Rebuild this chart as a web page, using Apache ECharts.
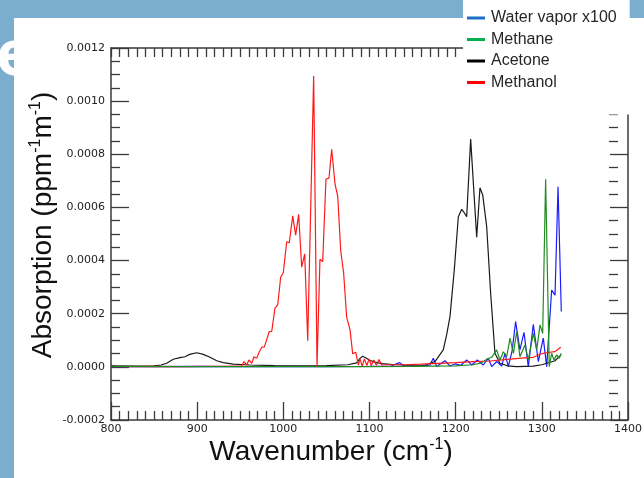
<!DOCTYPE html>
<html>
<head>
<meta charset="utf-8">
<script src="https://cdn.jsdelivr.net/npm/echarts@6/dist/echarts.min.js"></script>
<style>
  html, body { margin: 0; padding: 0; }
  #chart { width: 644px; height: 478px; }
</style>
</head>
<body>
<div id="chart"></div>
<script>
// Series names (legend order)
const seriesNames = ['Water vapor x100', 'Methane', 'Acetone', 'Methanol'];

// Y-axis tick values
const yTicks = [-0.0002, 0, 0.0002, 0.0004, 0.0006, 0.0008, 0.0010, 0.0012];
// X-axis tick values
const xTicks = [800, 900, 1000, 1100, 1200, 1300, 1400];

// Water vapor x100: wavenumber (cm-1) and absorption (ppm-1 m-1)
const waterX = [800, 805, 850, 900, 950, 1000, 1050, 1100, 1125, 1135, 1140, 1160, 1170, 1174, 1178,
  1187.6, 1193.4, 1199.2, 1206, 1212.8, 1218.6, 1225.1, 1232, 1237.9, 1241.8, 1247.6, 1253.4, 1257.2,
  1261.1, 1265.5, 1269.6, 1274.6, 1279.3, 1284.3, 1290.1, 1295.9, 1301.7, 1305.6, 1311.4, 1315.3,
  1318.8, 1322.6];
const waterY = [0.000006, 0.000001, 0.000001, 0.000002, 0.000001, 0.000002, 0.000001, 0.000002, 0.000003,
  0.000016, 0.000003, 0.000004, 0.000006, 0.000032, 0.000001, 0.000023, 0.000003, 0.000011, 0.000006,
  0.000026, 0.000007, 0.000026, 0.000007, 0.000032, 0.000001, 0.00002, 0.000003, 0.000051, 0.000001,
  0.00006, 0.00017, 0.000064, 0.00013, 0.000001, 0.00016, 0.00002, 0.000108, 0.000001, 0.000289,
  0.00027, 0.000678, 0.000208];

// Methane
const methaneX = [800, 900, 1000, 1100, 1150, 1200, 1220, 1230, 1236, 1241.8, 1247.6, 1251.4, 1255.3,
  1259.2, 1263.1, 1267, 1270.8, 1274.6, 1280.4, 1284.3, 1290.1, 1294, 1297.9, 1301, 1304.4, 1308.6,
  1311.4, 1314, 1317.2, 1320.2, 1322.6];
const methaneY = [0.000002, 0.000001, 0.000001, 0.000001, 0.000002, 0.000004, 0.000008, 0.000015,
  0.000029, 0.000036, 0.000064, 0.000026, 0.000057, 0.000038, 0.000108, 0.000051, 0.000132, 0.000038,
  0.000082, 0.000026, 0.000126, 0.000064, 0.000158, 0.000126, 0.000706, 0.000001, 0.000051, 0.000026,
  0.000045, 0.000032, 0.000051];

// Acetone
const acetoneX = [800, 830, 850, 858, 864.6, 872.3, 880, 885.9, 889.7, 893.6, 899.5, 907.1, 914.9, 922.7,
  930.3, 941.9, 961.3, 990, 1020, 1050, 1075, 1085, 1089, 1092, 1096, 1100, 1106, 1115, 1130, 1150,
  1165, 1176, 1185.6, 1189.5, 1193.4, 1198.4, 1203.1, 1207, 1210, 1212.8, 1217.4, 1224.4, 1228.2,
  1231.4, 1236, 1240.6, 1245.6, 1251.4, 1260, 1270.8, 1290, 1300, 1305.6, 1315.3, 1322.2];
const acetoneY = [0.000004, 0.000003, 0.000004, 0.000007, 0.0000135, 0.0000286, 0.0000346, 0.000038,
  0.000045, 0.000049, 0.000053, 0.000047, 0.000036, 0.000023, 0.000016, 0.00001, 0.000007, 0.000005,
  0.000004, 0.000005, 0.000008, 0.000015, 0.000032, 0.00004, 0.000033, 0.000025, 0.000018, 0.000012,
  0.000008, 0.000006, 0.000007, 0.00002, 0.000064, 0.00012, 0.000189, 0.000365, 0.000565, 0.000593,
  0.00058, 0.000565, 0.000857, 0.000488, 0.000674, 0.000647, 0.000528, 0.000277, 0.000051, 0.0000135,
  0.000004, 0.000001, 0.000003, 0.000008, 0.0000135, 0.000023, 0.000045];

// Methanol
const methanolX = [800, 820, 850, 880, 910, 930, 945, 951.7, 954.3, 957.5, 960.1, 963.3, 965.9, 969,
  972.1, 975, 978, 983.7, 986.5, 990.3, 993.5, 996.9, 1000, 1003.9, 1006.9, 1010.9, 1014.3, 1017.8,
  1021.3, 1024.8, 1028.3, 1035.2, 1039.1, 1042.5, 1045.7, 1049.5, 1053, 1056.1, 1060, 1063.1, 1066.6,
  1070, 1073.5, 1077.4, 1080.5, 1084, 1087, 1089, 1091.5, 1094, 1097, 1099.5, 1102, 1105, 1108, 1111,
  1114, 1120, 1140, 1160, 1180, 1200, 1220, 1240, 1260, 1280, 1290, 1300, 1305, 1315, 1322];
const methanolY = [0.000002, 0.000001, 0.000002, 0.000001, 0.000002, 0.000002, 0.000003, 0.0000034,
  0.00002, 0.000007, 0.000026, 0.0000135, 0.000038, 0.000032, 0.000057, 0.000074, 0.000075, 0.000133,
  0.000133, 0.000221, 0.000233, 0.000337, 0.000355, 0.000471, 0.000467, 0.000568, 0.000496, 0.000574,
  0.000375, 0.000425, 0.000098, 0.001095, 0.000003, 0.000405, 0.000396, 0.000707, 0.00071, 0.000819,
  0.000688, 0.000643, 0.000437, 0.000352, 0.000187, 0.000139, 0.000049, 0.000055, 0.000007, 0.00003,
  0.000002, 0.00003, 0.000005, 0.00003, 0.000005, 0.000026, 0.000006, 0.000028, 0.000007, 0.000008,
  0.000008, 0.00001, 0.000013, 0.000016, 0.00002, 0.000022, 0.000028, 0.000034, 0.000036, 0.00005,
  0.000053, 0.000057, 0.000074];

const pairs = (xs, ys) => xs.map((x, i) => [x, ys[i]]);

const lineColors = {
  'Water vapor x100': '#1c1cff',
  'Methane': '#228b22',
  'Acetone': '#1a1a1a',
  'Methanol': '#ff1a1a'
};
const legendColors = {
  'Water vapor x100': '#1f6fc6',
  'Methane': '#00b04f',
  'Acetone': '#000000',
  'Methanol': '#ff0000'
};

const axisColor = '#3a3a3a';
const labelFont = 'DejaVu Sans';
const titleFont = 'Liberation Sans';

// Plot frame geometry (pixels)
const plot = { left: 111, right: 628, top: 48, bottom: 420 };
// The legend box hides the frame's top-right corner down to this y / from this x
const legendBox = { left: 463, right: 630, bottom: 111 };

const xMin = xTicks[0], xMax = xTicks[xTicks.length - 1];
const yMin = yTicks[0], yMax = yTicks[yTicks.length - 1];
const xPerPx = (xMax - xMin) / (plot.right - plot.left);
const yPerPx = (yMax - yMin) / (plot.bottom - plot.top);

// Extents of the visible parts of the top and right frame edges
const topEdgeMax = xMin + (legendBox.left - plot.left) * xPerPx;
const rightEdgeMax = yMin + (plot.bottom - legendBox.bottom) * yPerPx;

function stepValues(from, to, step, skipEvery) {
  const out = [];
  const n = Math.floor((to - from) / step + 1e-9);
  for (let k = 0; k <= n; k++) {
    if (skipEvery && k % skipEvery === 0) continue;
    out.push(Math.round((from + k * step) * 1e7) / 1e7);
  }
  return out;
}

const lineStyle = { color: axisColor, width: 1.5 };
const tickStyle = { color: axisColor, width: 1.3 };

const chart = echarts.init(document.getElementById('chart'), null, { renderer: 'canvas' });

const series = [
  { name: 'Water vapor x100', data: pairs(waterX, waterY) },
  { name: 'Acetone', data: pairs(acetoneX, acetoneY) },
  { name: 'Methanol', data: pairs(methanolX, methanolY) },
  { name: 'Methane', data: pairs(methaneX, methaneY) }
].map(s => ({
  type: 'line',
  name: s.name,
  data: s.data,
  showSymbol: false,
  symbol: 'none',
  xAxisIndex: 0,
  yAxisIndex: 0,
  lineStyle: { width: 1.2, color: lineColors[s.name] },
  itemStyle: { color: lineColors[s.name] },
  z: 2
}));

const titleRich = {
  m: { fontSize: 28, fontFamily: titleFont, fill: '#111', lineHeight: 31, verticalAlign: 'bottom' },
  s: { fontSize: 16, fontFamily: titleFont, fill: '#111', lineHeight: 31, verticalAlign: 'top', padding: [1, 0, 0, 0] }
};

const hidden = (gridIndex) => ({ type: 'value', gridIndex, show: false, min: 0, max: 1 });

chart.setOption({
  animation: false,
  backgroundColor: '#7badce',
  grid: [
    // main plot area
    { left: plot.left, right: 644 - plot.right, top: plot.top, bottom: 478 - plot.bottom, outerBoundsMode: 'none', containLabel: false },
    // strip carrying the visible part of the top frame edge
    { left: plot.left, top: plot.top, width: legendBox.left - plot.left, height: 10, outerBoundsMode: 'none', containLabel: false },
    // strip carrying the visible part of the right frame edge
    { left: plot.right - 10, width: 10, top: legendBox.bottom, bottom: 478 - plot.bottom, outerBoundsMode: 'none', containLabel: false }
  ],
  xAxis: [
    {
      type: 'value', gridIndex: 0, position: 'bottom',
      min: xMin, max: xMax, interval: xTicks[1] - xTicks[0],
      axisLine: { show: true, onZero: false, lineStyle },
      axisTick: { show: true, inside: true, length: 18, lineStyle: tickStyle },
      minorTick: { show: true, splitNumber: 10, length: 9, lineStyle: tickStyle },
      splitLine: { show: false },
      axisLabel: { color: '#222', fontSize: 11, fontFamily: labelFont, margin: 4, formatter: (v) => String(Math.round(v)) }
    },
    {
      type: 'value', gridIndex: 1, position: 'top',
      min: xMin, max: topEdgeMax,
      axisLine: { show: true, onZero: false, lineStyle },
      axisTick: { show: true, inside: true, length: 9, lineStyle: tickStyle, customValues: stepValues(xMin, topEdgeMax, 10) },
      axisLabel: { show: false },
      splitLine: { show: false }
    },
    hidden(2)
  ],
  yAxis: [
    {
      type: 'value', gridIndex: 0, position: 'left',
      min: yMin, max: yMax, interval: yTicks[1] - yTicks[0],
      axisLine: { show: true, onZero: false, lineStyle },
      axisTick: { show: true, inside: true, length: 18, lineStyle: tickStyle },
      minorTick: { show: true, splitNumber: 4, length: 9, lineStyle: tickStyle },
      splitLine: { show: false },
      axisLabel: {
        color: '#222', fontSize: 11, fontFamily: labelFont, margin: 6,
        formatter: (v) => (Math.abs(v) < 1e-12 ? 0 : v).toFixed(4)
      }
    },
    hidden(1),
    {
      type: 'value', gridIndex: 2, position: 'right',
      min: yMin, max: rightEdgeMax,
      axisLine: { show: true, onZero: false, lineStyle },
      axisTick: { show: true, inside: true, length: 18, lineStyle: tickStyle, customValues: stepValues(yMin, rightEdgeMax, 0.0002) },
      axisLabel: { show: false },
      splitLine: { show: false }
    },
    {
      type: 'value', gridIndex: 2, position: 'right',
      min: yMin, max: rightEdgeMax,
      axisLine: { show: false },
      axisTick: { show: true, inside: true, length: 9, lineStyle: tickStyle, customValues: stepValues(yMin, rightEdgeMax, 0.00005, 4) },
      axisLabel: { show: false },
      splitLine: { show: false }
    }
  ],
  legend: {
    orient: 'vertical',
    left: 463,
    top: 0,
    z: 50,
    backgroundColor: '#ffffff',
    padding: [10, 13, 24, 4],
    itemGap: 5.5,
    itemWidth: 18,
    itemHeight: 3,
    icon: 'rect',
    textStyle: { fontSize: 16, fontFamily: titleFont, color: '#262626', padding: [0, 0, 0, 1] },
    data: seriesNames.map(n => ({ name: n, itemStyle: { color: legendColors[n] } }))
  },
  graphic: [
    // partially hidden heading letter behind the white panel
    {
      type: 'text', left: -4, top: 26, z: -3,
      style: { text: 'e', fill: '#ffffff', fontSize: 62, fontWeight: 'bold', fontFamily: 'Open Sans' }
    },
    // white panel
    { type: 'rect', shape: { x: 14, y: 18, width: 640, height: 470 }, style: { fill: '#ffffff' }, z: -2 },
    // y-axis title
    {
      type: 'text', x: 42, y: 225, rotation: Math.PI / 2, z: 5,
      style: {
        text: '{m|Absorption (ppm}{s|-1}{m|m}{s|-1}{m|)}',
        align: 'center', verticalAlign: 'middle',
        rich: titleRich
      }
    },
    // x-axis title
    {
      type: 'text', x: 331, y: 451, z: 5,
      style: {
        text: '{m|Wavenumber (cm}{s|-1}{m|)}',
        align: 'center', verticalAlign: 'middle',
        rich: titleRich
      }
    }
  ],
  series: series
});
</script>
</body>
</html>
